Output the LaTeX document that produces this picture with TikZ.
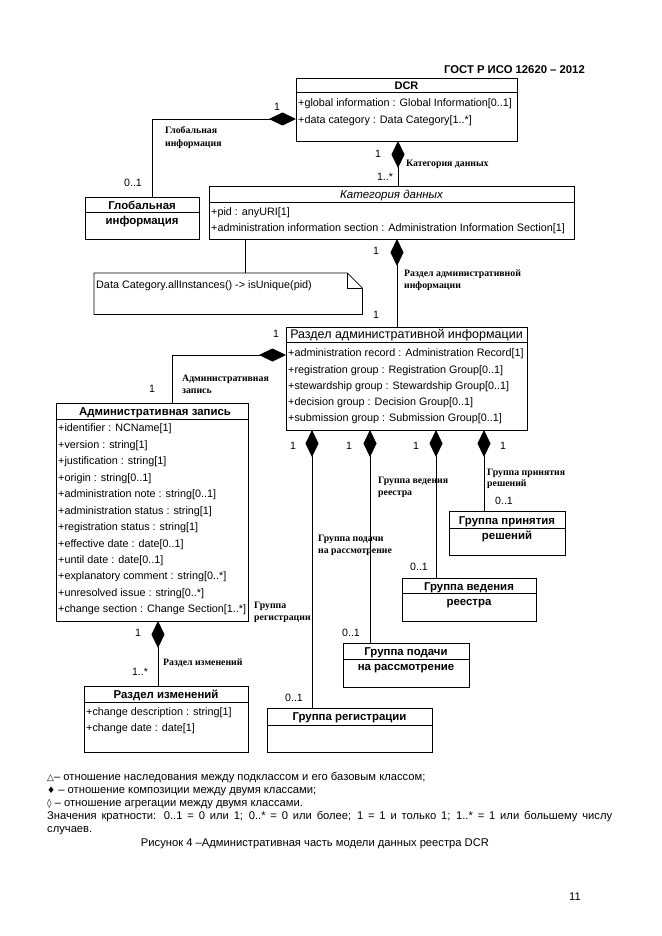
\documentclass[tikz,border=0pt]{standalone}
\usepackage{fontspec}
\setmainfont{Liberation Sans}
\newfontfamily\lblserif{Liberation Serif}
\newfontfamily\symfnt{DejaVu Sans}
\usetikzlibrary{arrows.meta}
\begin{document}
\begin{tikzpicture}[x=1pt,y=-1pt,
  cls/.style={draw, line width=0.8pt, rectangle, anchor=north west, inner sep=0pt, outer sep=0pt},
  attr/.style={anchor=west, inner sep=0pt, text height=7.7pt, text depth=0pt, font=\fontsize{10.8}{12}\selectfont},
  ttl/.style={inner sep=0pt, text height=8.2pt, text depth=0pt, font=\bfseries\fontsize{11.4}{14}\selectfont},
  ttlr/.style={inner sep=0pt, text height=8.6pt, text depth=0pt, font=\fontsize{12.5}{14}\selectfont},
  ttli/.style={inner sep=0pt, text height=8pt, text depth=0pt, font=\itshape\fontsize{11.5}{14}\selectfont},
  mult/.style={inner sep=0pt, text height=7.6pt, text depth=0pt, font=\fontsize{10.6}{12}\selectfont},
  lbl/.style={anchor=west, inner sep=0pt, text height=6.4pt, text depth=0pt, font=\lblserif\bfseries\fontsize{9.8}{11}\selectfont},
  lnk/.style={line width=0.8pt},
  comp/.style={line width=0.8pt, {Diamond[length=27pt,width=13pt]}-},
  legend/.style={anchor=west, inner sep=0pt, text height=8pt, text depth=0pt, font=\fontsize{11.2}{12}\selectfont}
]
\useasboundingbox (0,0) rectangle (661,936);
\fill[white] (0,0) rectangle (661,936);

% header
\node[anchor=east, inner sep=0pt, text height=8pt, text depth=0pt, font=\bfseries\fontsize{11.3}{13}\selectfont] (hdr) at (585,70) {ГОСТ Р ИСО 12620 – 2012};

% DCR
\node[cls, minimum width=221pt, minimum height=63pt] (dcr) at (296,78) {};
\draw[lnk] ([yshift=-14pt]dcr.north west) -- ([yshift=-14pt]dcr.north east);
\node[ttl, font=\bfseries\fontsize{11}{13}\selectfont] (dcrT) at (406.5,85.5) {DCR};
\node[attr] (dcrA1) at (298,103) {+global information : Global Information[0..1]};
\node[attr] (dcrA2) at (298,120) {+data category : Data Category[1..*]};

% Global information
\node[cls, minimum width=114pt, minimum height=42pt] (glob) at (85,197) {};
\draw[lnk] ([yshift=-15pt]glob.north west) -- ([yshift=-15pt]glob.north east);
\node[ttl] (globT) at (142,205) {Глобальная};
\node[ttl] (globT2) at (142,220) {информация};

% Data category
\node[cls, minimum width=365pt, minimum height=53pt] (cat) at (209,186) {};
\draw[lnk] ([yshift=-16pt]cat.north west) -- ([yshift=-16pt]cat.north east);
\node[ttli] (catT) at (391.5,194) {Категория данных};
\node[attr] (catA1) at (211,212) {+pid : anyURI[1]};
\node[attr] (catA2) at (211,228) {+administration information section : Administration Information Section[1]};

% note
\node[anchor=north west, inner sep=0pt, minimum width=268pt, minimum height=41pt] (note) at (94,273) {};
\draw[lnk] (note.south west) -- (note.north west) -- ([xshift=-15pt]note.north east) -- ([yshift=-15pt]note.north east) -- (note.south east) -- cycle;
\draw[lnk] ([xshift=-15pt]note.north east) -- ([xshift=-15pt,yshift=-15pt]note.north east) -- ([yshift=-15pt]note.north east);
\node[attr] (noteT) at (96,285) {Data Category.allInstances() -> isUnique(pid)};

% Administration information section
\node[cls, minimum width=241pt, minimum height=103pt] (razd) at (286,327) {};
\draw[lnk] ([yshift=-15pt]razd.north west) -- ([yshift=-15pt]razd.north east);
\node[ttlr] (razdT) at (406.5,334.5) {Раздел административной информации};
\node[attr] (razdA1) at (288,353) {+administration record : Administration Record[1]};
\node[attr] (razdA2) at (288,370) {+registration group : Registration Group[0..1]};
\node[attr] (razdA3) at (288,386) {+stewardship group : Stewardship Group[0..1]};
\node[attr] (razdA4) at (288,402) {+decision group : Decision Group[0..1]};
\node[attr] (razdA5) at (288,418) {+submission group : Submission Group[0..1]};

% Administrative record
\node[cls, minimum width=192pt, minimum height=218pt] (adm) at (56,403) {};
\draw[lnk] ([yshift=-16pt]adm.north west) -- ([yshift=-16pt]adm.north east);
\node[ttl] (admT) at (155,411) {Административная запись};
\node[attr] (admA1) at (58,428) {+identifier : NCName[1]};
\node[attr] (admA2) at (58,444.5) {+version : string[1]};
\node[attr] (admA3) at (58,461) {+justification : string[1]};
\node[attr] (admA4) at (58,477.4) {+origin : string[0..1]};
\node[attr] (admA5) at (58,493.8) {+administration note : string[0..1]};
\node[attr] (admA6) at (58,510.3) {+administration status : string[1]};
\node[attr] (admA7) at (58,526.7) {+registration status : string[1]};
\node[attr] (admA8) at (58,543.2) {+effective date : date[0..1]};
\node[attr] (admA9) at (58,559.6) {+until date : date[0..1]};
\node[attr] (admA10) at (58,576) {+explanatory comment : string[0..*]};
\node[attr] (admA11) at (58,592.5) {+unresolved issue : string[0..*]};
\node[attr] (admA12) at (58,609) {+change section : Change Section[1..*]};

% Change section
\node[cls, minimum width=164pt, minimum height=66pt] (chg) at (84,686) {};
\draw[lnk] ([yshift=-16pt]chg.north west) -- ([yshift=-16pt]chg.north east);
\node[ttl] (chgT) at (166,694) {Раздел изменений};
\node[attr] (chgA1) at (86,712) {+change description : string[1]};
\node[attr] (chgA2) at (86,728) {+change date : date[1]};

% Decision group
\node[cls, minimum width=116pt, minimum height=44pt] (dec) at (449,511) {};
\draw[lnk] ([yshift=-17pt]dec.north west) -- ([yshift=-17pt]dec.north east);
\node[ttl] (decT) at (507,520) {Группа принятия};
\node[ttl] (decT2) at (507,535.5) {решений};

% Stewardship group
\node[cls, minimum width=134pt, minimum height=43pt] (stw) at (402,578) {};
\draw[lnk] ([yshift=-15pt]stw.north west) -- ([yshift=-15pt]stw.north east);
\node[ttl] (stwT) at (469,586) {Группа ведения};
\node[ttl] (stwT2) at (469,601) {реестра};

% Submission group
\node[cls, minimum width=126pt, minimum height=44pt] (sub) at (343,643) {};
\draw[lnk] ([yshift=-16pt]sub.north west) -- ([yshift=-16pt]sub.north east);
\node[ttl] (subT) at (406,651.5) {Группа подачи};
\node[ttl] (subT2) at (406,666) {на рассмотрение};

% Registration group
\node[cls, minimum width=165pt, minimum height=44pt] (reg) at (267,708) {};
\draw[lnk] ([yshift=-17pt]reg.north west) -- ([yshift=-17pt]reg.north east);
\node[ttl] (regT) at (349.5,716.5) {Группа регистрации};

% ---- connectors
\draw[comp] ([yshift=-41pt]dcr.north west) -| ([xshift=10pt]glob.north);
\node[mult] (m1) at (277,107) {1};
\node[mult] (m2) at (133,183) {0..1};
\node[lbl] (l1a) at (165,130) {Глобальная};
\node[lbl] (l1b) at (165,143) {информация};

\draw[comp] ([xshift=-8.5pt]dcr.south) -- ([xshift=-8.5pt]dcr.south |- cat.north);
\node[mult] (m3) at (378,154) {1};
\node[mult] (m4) at (385,177) {1..*};
\node[lbl] (l2) at (406,163) {Категория данных};

\draw[lnk] ([xshift=-146.5pt]cat.south) -- ([xshift=-146.5pt]cat.south |- note.north);

\draw[comp] ([xshift=5.5pt]cat.south) -- ([xshift=5.5pt]cat.south |- razd.north);
\node[mult] (m5) at (376,251) {1};
\node[mult] (m6) at (376,315) {1};
\node[lbl] (l3a) at (404,273) {Раздел административной};
\node[lbl] (l3b) at (404,285) {информации};

\draw[comp] ([yshift=-28pt]razd.north west) -| ([xshift=20pt]adm.north);
\node[mult] (m7) at (276,334) {1};
\node[mult] (m8) at (152,389) {1};
\node[lbl] (l4a) at (182,378) {Административная};
\node[lbl] (l4b) at (182,390) {запись};

\draw[comp] ([xshift=6pt]adm.south) -- ([xshift=6pt]adm.south |- chg.north);
\node[mult] (m9) at (138,633) {1};
\node[mult] (m10) at (140,672) {1..*};
\node[lbl] (l5) at (163,662) {Раздел изменений};

\draw[comp] ([xshift=-94.5pt]razd.south) -- ([xshift=-94.5pt]razd.south |- reg.north);
\draw[comp] ([xshift=-36.5pt]razd.south) -- ([xshift=-36.5pt]razd.south |- sub.north);
\draw[comp] ([xshift=29.5pt]razd.south) -- ([xshift=29.5pt]razd.south |- stw.north);
\draw[comp] ([xshift=77.5pt]razd.south) -- ([xshift=77.5pt]razd.south |- dec.north);
\node[mult] (m11) at (293,446) {1};
\node[mult] (m12) at (349,446) {1};
\node[mult] (m13) at (416,446) {1};
\node[mult] (m14) at (503,446) {1};
\node[mult] (m15) at (294,698) {0..1};
\node[mult] (m16) at (351,633) {0..1};
\node[mult] (m17) at (419,567) {0..1};
\node[mult] (m18) at (504,501) {0..1};
\node[lbl] (l6a) at (254,605) {Группа};
\node[lbl] (l6b) at (254,617) {регистрации};
\node[lbl] (l7a) at (318,538) {Группа подачи};
\node[lbl] (l7b) at (318,550) {на рассмотрение};
\node[lbl] (l8a) at (378,480) {Группа ведения};
\node[lbl] (l8b) at (378,492) {реестра};
\node[lbl] (l9a) at (487,472) {Группа принятия};
\node[lbl] (l9b) at (487,483) {решений};

% legend
\node[legend] (lg1) at (47,776) {{\symfnt\fontsize{9}{10}\selectfont △}– отношение наследования между подклассом и его базовым классом;};
\node[legend] (lg2) at (47,789) {{\symfnt\fontsize{9}{10}\selectfont ♦} – отношение композиции между двумя классами;};
\node[legend] (lg3) at (47,802) {{\symfnt\fontsize{9}{10}\selectfont ◊} – отношение агрегации между двумя классами.};
\node[legend] (lg4) at (47,815) {\makebox[565pt][s]{Значения кратности: 0..1 = 0 или 1; 0..* = 0 или более; 1 = 1 и только 1; 1..* = 1 или большему числу}};
\node[legend] (lg5) at (47,828) {случаев.};
\node[legend, anchor=center] (capt) at (315,842) {Рисунок 4 –Административная часть модели данных реестра DCR};
\node[legend, anchor=center] (pg) at (575,896) {11};
\end{tikzpicture}
\end{document}
